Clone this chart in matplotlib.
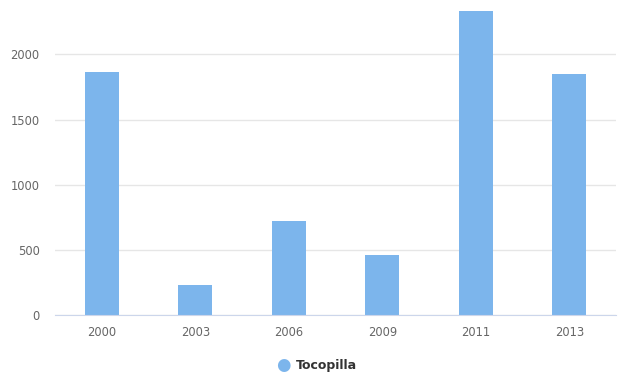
import matplotlib
matplotlib.use("Agg")
import matplotlib.pyplot as plt
import numpy as np

# data
years = ["2000", "2003", "2006", "2009", "2011", "2013"]
values = [1864, 232, 720, 462, 2330, 1849]
series_name = "Tocopilla"
y_ticks = [0, 500, 1000, 1500, 2000]

W, H = 627, 376
fig = plt.figure(figsize=(W / 100, H / 100), dpi=100)
ax = fig.add_axes([55 / W, 60.7 / H, 561 / W, 305.3 / H])

x = np.arange(len(years))
ax.bar(x, values, width=0.364, color="#7cb5ec", zorder=2)

ax.set_xlim(-0.5, len(years) - 0.5)
ax.set_ylim(0, 2340)
ax.set_yticks(y_ticks)
ax.set_yticklabels([str(t) for t in y_ticks])
ax.set_xticks(x)
ax.set_xticklabels(years)

ax.grid(axis="y", color="#e6e6e6", linewidth=1, zorder=0)
for side in ("top", "right", "left"):
    ax.spines[side].set_visible(False)
ax.spines["bottom"].set_color("#ccd6eb")
ax.spines["bottom"].set_zorder(3)
ax.tick_params(axis="both", length=0, labelsize=8.3, labelcolor="#666666")
ax.tick_params(axis="y", pad=11)
ax.tick_params(axis="x", pad=8)

# legend
fig.text(283 / W, 1 - 365 / H, "\u25cf", color="#7cb5ec", fontsize=12,
         ha="center", va="center")
fig.text(296 / W, 1 - 365 / H, series_name, color="#333333", fontsize=9,
         fontweight="bold", ha="left", va="center")

fig.savefig("out.png", dpi=100)
